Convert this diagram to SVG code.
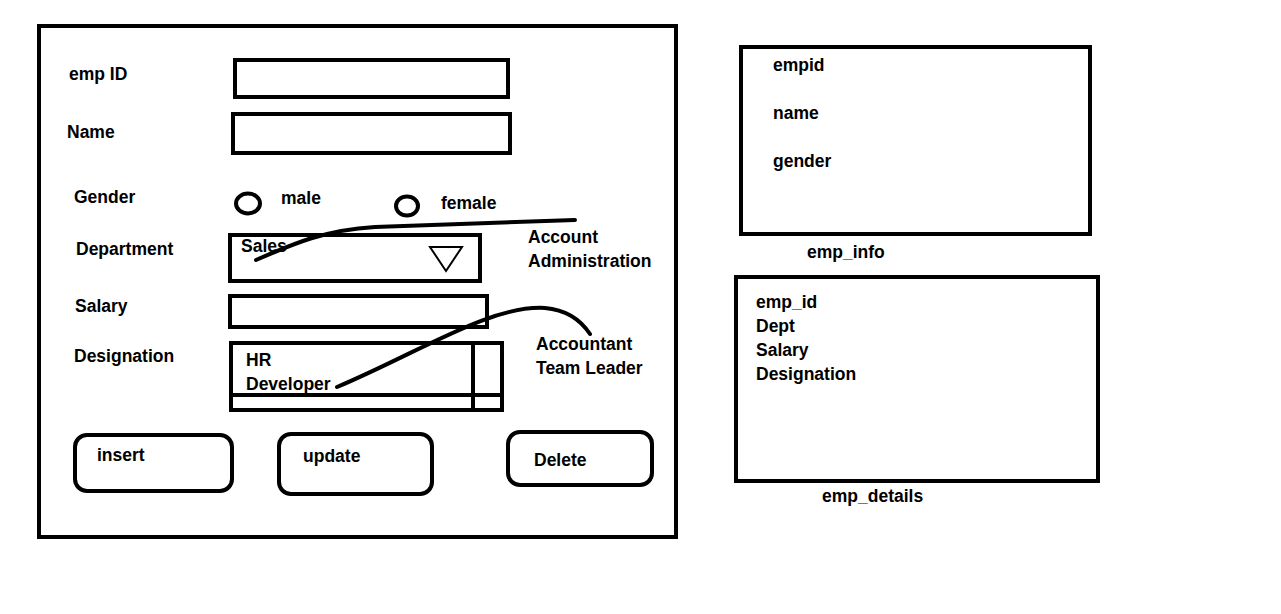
<svg xmlns="http://www.w3.org/2000/svg" width="1281" height="614" viewBox="0 0 1281 614">
<style>
.b{fill:none;stroke:#000;stroke-width:4}
.t{font-family:"Liberation Sans",Arial,sans-serif;font-weight:bold;font-size:17.5px;fill:#000}
.c{fill:none;stroke:#000;stroke-width:4;stroke-linecap:round}
</style>
<rect width="1281" height="614" fill="#fff"/>
<g id="form">
<rect class="b" x="39" y="26" width="637" height="511"/>
</g>
<g id="empid-field">
<text class="t" x="69" y="80">emp ID</text>
<rect class="b" x="235" y="60" width="273" height="37"/>
</g>
<g id="name-field">
<text class="t" x="67" y="138">Name</text>
<rect class="b" x="233" y="114" width="277" height="39"/>
</g>
<g id="gender-field">
<text class="t" x="74" y="203">Gender</text>
<ellipse class="b" cx="248" cy="203.5" rx="12" ry="10"/>
<text class="t" x="281" y="204">male</text>
<ellipse class="b" cx="407" cy="206" rx="11" ry="9.5"/>
<text class="t" x="441" y="209">female</text>
</g>
<g id="department-field">
<text class="t" x="76" y="255">Department</text>
<rect class="b" x="230" y="235" width="250" height="46"/>
<text class="t" x="241" y="252">Sales</text>
<polygon points="430,247 462,247 446,271" fill="none" stroke="#000" stroke-width="2"/>
<text class="t" x="528" y="243">Account</text>
<text class="t" x="528" y="267">Administration</text>
</g>
<g id="salary-field">
<text class="t" x="75" y="312">Salary</text>
<rect class="b" x="230" y="296" width="257" height="31"/>
</g>
<g id="designation-field">
<text class="t" x="74" y="362">Designation</text>
<rect class="b" x="231" y="343" width="271" height="67"/>
<line class="b" x1="473" y1="343" x2="473" y2="410"/>
<line class="b" x1="231" y1="395" x2="502" y2="395"/>
<text class="t" x="246" y="366">HR</text>
<text class="t" x="246" y="390">Developer</text>
<text class="t" x="536" y="350">Accountant</text>
<text class="t" x="536" y="374">Team Leader</text>
</g>
<g id="insert-btn">
<rect class="b" x="75" y="435" width="157" height="56" rx="12"/>
<text class="t" x="97" y="461">insert</text>
</g>
<g id="update-btn">
<rect class="b" x="279" y="434" width="153" height="60" rx="12"/>
<text class="t" x="303" y="462">update</text>
</g>
<g id="delete-btn">
<rect class="b" x="508" y="432" width="144" height="53" rx="12"/>
<text class="t" x="534" y="466">Delete</text>
</g>
<g id="emp-info">
<rect class="b" x="741" y="47" width="349" height="187"/>
<text class="t" x="773" y="71">empid</text>
<text class="t" x="773" y="119">name</text>
<text class="t" x="773" y="167">gender</text>
<text class="t" x="807" y="258">emp_info</text>
</g>
<g id="emp-details">
<rect class="b" x="736" y="277" width="362" height="204"/>
<text class="t" x="756" y="308">emp_id</text>
<text class="t" x="756" y="332">Dept</text>
<text class="t" x="756" y="356">Salary</text>
<text class="t" x="756" y="380">Designation</text>
<text class="t" x="822" y="502">emp_details</text>
</g>
<g id="connectors">
<path class="c" d="M256,260 C295,243 325,230 375,227 L575,220"/>
<path class="c" d="M337,387 C420,352 490,305 545,308 C568,310 582,322 590,334"/>
</g>
</svg>
